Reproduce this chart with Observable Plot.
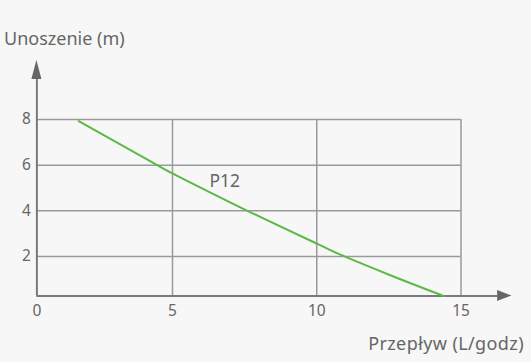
<!DOCTYPE html>
<html><head><meta charset="utf-8">
<script src="https://cdn.jsdelivr.net/npm/d3@7"></script>
<script src="https://cdn.jsdelivr.net/npm/@observablehq/plot@0.6"></script>
<style>
html,body{margin:0;padding:0;background:#f7f7f7;}
svg{display:block;}
</style></head><body>
<div id="chart"></div>
<script>
const flow = [1.75, 4.41, 5.0, 7.6, 10.06, 10.82, 12.55, 14.4];
const head = [7.93, 6.05, 5.64, 4.0, 2.53, 2.08, 1.18, 0.27];
const xTicks = [5, 10, 15];
const yTicks = [2, 4, 6, 8];
const origin = {x: 0.3, y: 0.27, label: "0"};
const seriesLabel = "P12";
const xTitle = "Przepływ (L/godz)";
const yTitle = "Unoszenie (m)";

const data = flow.map((f, i) => ({flow: f, head: head[i]}));
const textColor = "#666";
const gridColor = "#9a9a9a";
const axisColor = "#7a7a7a";
const font = "'Noto Sans', 'Open Sans', sans-serif";

const plot = Plot.plot({
  width: 531,
  height: 362,
  margin: 0,
  style: {background: "#f7f7f7", fontFamily: font, overflow: "visible"},
  x: {type: "linear", domain: [0, 15], range: [27.75, 460.5], axis: null},
  y: {type: "linear", domain: [0, 8], range: [301.67, 119], axis: null},
  marks: [
    Plot.ruleX(xTicks, {y1: origin.y, y2: 8, stroke: gridColor, strokeWidth: 1.5}),
    Plot.ruleY(yTicks, {x1: origin.x, x2: 15, stroke: gridColor, strokeWidth: 1.5}),
    Plot.ruleY([origin.y], {x1: origin.x, x2: 16.27, stroke: axisColor, strokeWidth: 2}),
    Plot.ruleX([origin.x], {y1: origin.y, y2: 9.75, stroke: axisColor, strokeWidth: 2}),
    Plot.line(data, {x: "flow", y: "head", curve: "natural", stroke: "#5cb946", strokeWidth: 2}),
    Plot.text(xTicks, {x: d => d, y: origin.y, dy: 15, text: d => String(d), fill: textColor, fontSize: 15.5}),
    Plot.text([origin.label], {x: origin.x, y: origin.y, dy: 15, text: d => d, fill: textColor, fontSize: 15.5}),
    Plot.text(yTicks, {x: origin.x, y: d => d, dx: -6, text: d => String(d), fill: textColor, fontSize: 15.5, textAnchor: "end"}),
    Plot.text([seriesLabel], {x: 6.28, y: 5.28, text: d => d, fill: textColor, fontSize: 17.5, textAnchor: "start"})
  ]
});

const svg = d3.select(plot);
const sx = plot.scale("x"), sy = plot.scale("y");
// Arrow heads at the ends of the axes
const ax = sx.apply(origin.x), ay = sy.apply(9.75);
svg.append("path")
  .attr("d", `M${ax},${sy.apply(10.58)} L${ax - 5},${ay} L${ax + 5},${ay} Z`)
  .attr("fill", "#666");
const bx = sx.apply(16.27), by = sy.apply(origin.y);
svg.append("path")
  .attr("d", `M${sx.apply(16.77)},${by} L${bx},${by - 5.5} L${bx},${by + 5.5} Z`)
  .attr("fill", "#666");

svg.append("text").attr("x", 4).attr("y", 45).attr("fill", textColor)
  .attr("text-anchor", "start")
  .attr("font-size", 18).attr("font-family", font).text(yTitle);
svg.append("text").attr("x", 524).attr("y", 350).attr("fill", textColor)
  .attr("font-size", 18).attr("font-family", font).attr("text-anchor", "end")
  .attr("letter-spacing", 0.4).text(xTitle);

document.getElementById("chart").appendChild(plot);
</script>
</body></html>
